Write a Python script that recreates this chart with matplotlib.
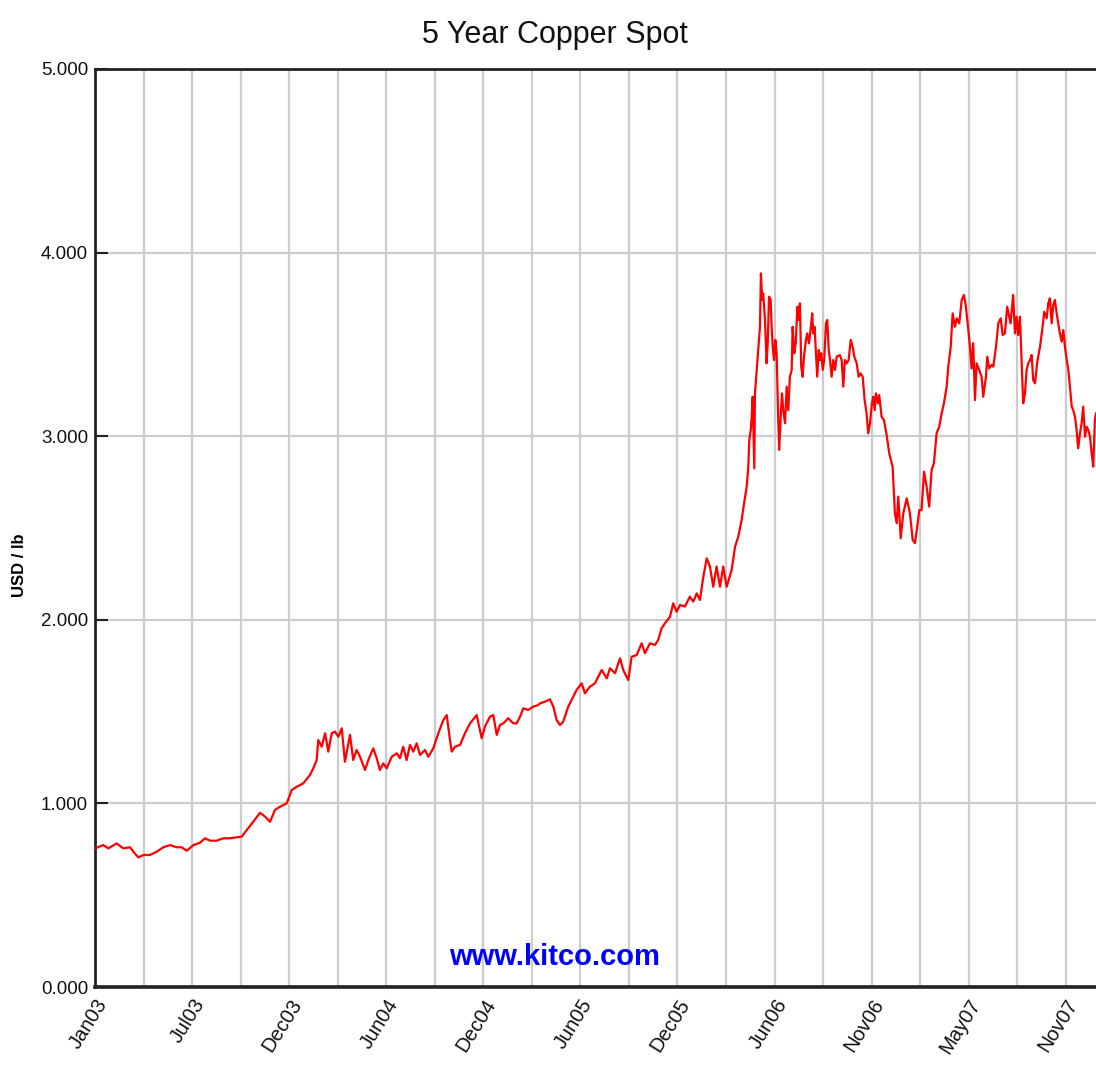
import matplotlib
matplotlib.use("Agg")
import matplotlib.pyplot as plt
from matplotlib.ticker import FixedLocator, FormatStrFormatter

# x: months since Jan 2003, y: USD / lb
months = [
    0.00, 0.51, 0.82, 1.34, 1.75, 2.16, 2.37, 2.68, 2.99, 3.40, 3.81, 4.22, 4.64, 5.05, 5.36, 5.67,
    6.08, 6.49, 6.80, 7.11, 7.52, 7.93, 8.34, 8.76, 9.07, 9.38, 9.78, 10.20, 10.51, 10.82, 11.12,
    11.43, 11.85, 12.16, 12.47, 12.87, 13.29, 13.49, 13.70,
    13.80, 14.01, 14.22, 14.42, 14.63, 14.83, 15.04, 15.25, 15.45, 15.76, 15.96, 16.17, 16.38, 16.69,
    16.89, 17.20, 17.41, 17.61, 17.82, 18.03, 18.34, 18.65, 18.85, 19.05, 19.26, 19.47, 19.67, 19.88,
    20.09, 20.40, 20.60, 20.91, 21.22, 21.53, 21.74, 21.94, 22.05, 22.25, 22.56, 22.87, 23.18, 23.59,
    23.90, 24.10, 24.41, 24.62, 24.83, 25.03, 25.24, 25.54, 25.85, 26.06, 26.27, 26.47, 26.78, 27.09,
    27.40,
    27.50, 27.81, 28.12, 28.33, 28.53, 28.74, 28.94, 29.25, 29.56, 29.77, 30.08, 30.28, 30.59, 30.90,
    31.32, 31.63, 31.83, 32.14, 32.45, 32.65, 32.96, 33.17, 33.48, 33.79, 33.99, 34.30, 34.61, 34.81,
    35.02, 35.23, 35.54, 35.74, 35.95, 36.16, 36.46, 36.77, 36.98, 37.19, 37.39, 37.60, 37.81, 38.01,
    38.21, 38.42, 38.63, 38.83, 39.04, 39.35,
    39.56, 39.76, 39.97, 40.07, 40.28, 40.38, 40.44, 40.53, 40.59, 40.65, 40.73, 40.75, 40.79, 40.90,
    41.00, 41.10, 41.16, 41.24, 41.30, 41.41, 41.51, 41.58, 41.66, 41.76, 41.82, 41.89, 41.97, 42.05,
    42.13, 42.23, 42.29, 42.38, 42.46, 42.54, 42.65, 42.75, 42.85, 42.95, 43.06, 43.12, 43.22, 43.31,
    43.41, 43.49, 43.57, 43.65, 43.74, 43.82, 43.94, 44.02, 44.13, 44.25, 44.33, 44.39, 44.48, 44.56,
    44.64, 44.73, 44.81, 44.89, 44.98, 45.07, 45.18, 45.26, 45.35, 45.43, 45.53, 45.63, 45.74, 45.84,
    46.04, 46.15, 46.25, 46.35, 46.46, 46.58, 46.71, 46.83, 46.93, 47.08, 47.20, 47.32, 47.45, 47.57,
    47.69, 47.79, 47.90, 48.02, 48.10, 48.19, 48.27, 48.39, 48.47,
    48.62, 48.76, 48.93, 49.09, 49.30, 49.44, 49.55, 49.65, 49.80, 49.96, 50.17, 50.37, 50.54, 50.68,
    50.82, 50.95, 51.09, 51.24, 51.40, 51.56, 51.71, 51.85, 52.02, 52.18, 52.33, 52.47, 52.64, 52.74,
    52.89, 53.01, 53.15, 53.26, 53.42, 53.57, 53.71, 53.83, 53.98, 54.08, 54.18, 54.28, 54.39, 54.49,
    54.65, 54.80, 54.90, 55.07, 55.15, 55.27, 55.42, 55.52, 55.69, 55.83, 55.98, 56.10, 56.24, 56.38,
    56.51, 56.59, 56.75, 56.86, 56.96, 57.06, 57.17, 57.27, 57.37, 57.48, 57.58, 57.68, 57.79, 57.89,
    57.99, 58.10, 58.24, 58.41, 58.57, 58.67, 58.82, 58.92, 59.02, 59.13, 59.23, 59.33, 59.44, 59.60,
    59.75, 59.85, 59.95, 60.06, 60.16, 60.26, 60.37, 60.46, 60.57, 60.67, 60.77, 60.88, 60.98, 61.08,
    61.19, 61.29, 61.39, 61.50, 61.60, 61.70, 61.80, 61.87,
]

price = [
    0.755, 0.773, 0.755, 0.782, 0.755, 0.761, 0.737, 0.706, 0.719, 0.719, 0.737, 0.761, 0.773, 0.761, 0.761, 0.742,
    0.773, 0.786, 0.810, 0.797, 0.797, 0.810, 0.810, 0.815, 0.819, 0.855, 0.900, 0.949, 0.928, 0.900, 0.964,
    0.982, 1.000, 1.073, 1.091, 1.109, 1.155, 1.191, 1.236,
    1.345, 1.309, 1.382, 1.282, 1.382, 1.391, 1.363, 1.409, 1.227, 1.373, 1.236, 1.291, 1.254, 1.182,
    1.236, 1.300, 1.246, 1.182, 1.218, 1.191, 1.254, 1.273, 1.246, 1.309, 1.236, 1.318, 1.282, 1.327,
    1.264, 1.291, 1.254, 1.300, 1.382, 1.454, 1.481, 1.345, 1.282, 1.309, 1.318, 1.382, 1.436, 1.481,
    1.355, 1.418, 1.472, 1.481, 1.373, 1.427, 1.436, 1.464, 1.436, 1.436, 1.472, 1.518, 1.509, 1.527,
    1.536,
    1.545, 1.554, 1.567, 1.527, 1.454, 1.427, 1.445, 1.527, 1.581, 1.618, 1.654, 1.600, 1.636, 1.654,
    1.727, 1.681, 1.736, 1.709, 1.790, 1.727, 1.672, 1.799, 1.808, 1.872, 1.818, 1.872, 1.863, 1.890,
    1.954, 1.981, 2.017, 2.090, 2.044, 2.081, 2.072, 2.126, 2.099, 2.144, 2.108, 2.235, 2.335, 2.290,
    2.180, 2.290, 2.180, 2.290, 2.180, 2.271,
    2.398, 2.453, 2.544, 2.607, 2.725, 2.834, 2.979, 3.034, 3.106, 3.215, 2.907, 2.825, 3.233, 3.361,
    3.470, 3.596, 3.887, 3.742, 3.778, 3.633, 3.397, 3.506, 3.760, 3.742, 3.596, 3.487, 3.415, 3.524,
    3.452, 3.088, 2.925, 3.106, 3.233, 3.142, 3.070, 3.270, 3.142, 3.324, 3.361, 3.596, 3.452, 3.506,
    3.705, 3.633, 3.724, 3.378, 3.324, 3.433, 3.524, 3.560, 3.506, 3.596, 3.669, 3.560, 3.596, 3.452,
    3.324, 3.470, 3.415, 3.452, 3.361, 3.415, 3.615, 3.633, 3.470, 3.415, 3.324, 3.415, 3.361, 3.433,
    3.442, 3.415, 3.270, 3.415, 3.397, 3.415, 3.524, 3.487, 3.433, 3.397, 3.324, 3.342, 3.324, 3.197,
    3.124, 3.016, 3.070, 3.179, 3.215, 3.142, 3.233, 3.179, 3.224,
    3.106, 3.088, 3.007, 2.907, 2.834, 2.580, 2.526, 2.671, 2.444, 2.580, 2.662, 2.580, 2.435, 2.417,
    2.507, 2.598, 2.598, 2.807, 2.725, 2.616, 2.816, 2.852, 3.016, 3.052, 3.124, 3.179, 3.270, 3.379,
    3.487, 3.669, 3.596, 3.642, 3.615, 3.742, 3.769, 3.705, 3.578, 3.487, 3.369, 3.506, 3.197, 3.397,
    3.361, 3.324, 3.215, 3.324, 3.433, 3.369, 3.388, 3.379, 3.487, 3.615, 3.642, 3.551, 3.560, 3.705,
    3.651, 3.615, 3.769, 3.560, 3.651, 3.551, 3.651, 3.415, 3.179, 3.233, 3.361, 3.397, 3.415, 3.442,
    3.306, 3.288, 3.406, 3.487, 3.596, 3.678, 3.642, 3.724, 3.751, 3.615, 3.715, 3.742, 3.669, 3.578,
    3.515, 3.578, 3.487, 3.415, 3.361, 3.270, 3.161, 3.142, 3.106, 3.034, 2.934, 3.016, 3.070, 3.161,
    2.997, 3.052, 3.034, 2.997, 2.907, 2.834, 3.088, 3.124,
]

tick_months = [0, 6, 12, 18, 24, 30, 36, 42, 48, 54, 60]
tick_labels = ["Jan03", "Jul03", "Dec03", "Jun04", "Dec04", "Jun05", "Dec05",
               "Jun06", "Nov06", "May07", "Nov07"]
grid_months = [0, 3, 6, 9, 12, 15, 18, 21, 24, 27, 30, 33, 36, 39, 42, 45, 48, 51, 54, 57, 60]
y_ticks = [0, 1, 2, 3, 4, 5]

plt.rcParams['font.family'] = ['Liberation Sans', 'DejaVu Sans']

fig = plt.figure(figsize=(10.96, 10.65), dpi=100)
ax = fig.add_axes([95 / 1096, 1 - 987 / 1065, 1 - 95 / 1096, (987 - 69) / 1065])

for m in grid_months:
    ax.axvline(m, color="#cccccc", lw=1.6, zorder=1)
for v in y_ticks:
    ax.axhline(v, color="#cccccc", lw=1.6, zorder=1)

ax.plot(months, price, color="#ff0000", lw=1.6, zorder=3, solid_joinstyle="round")

ax.set_xlim(0, 61.87)
ax.set_ylim(0, 5)

ax.yaxis.set_major_locator(FixedLocator(y_ticks))
ax.yaxis.set_major_formatter(FormatStrFormatter("%.3f"))
ax.tick_params(axis="y", direction="in", length=9, width=1.5, color="#222222",
               labelsize=13.5, pad=5, labelcolor="#111111")

ax.set_xticks(tick_months)
ax.set_xticklabels(tick_labels, rotation=58, ha="right", va="top",
                   rotation_mode="anchor", fontsize=14.5, color="#111111")
ax.tick_params(axis="x", length=0, pad=6)

for side in ["left", "top"]:
    ax.spines[side].set_linewidth(2.0)
    ax.spines[side].set_color("#222222")
ax.spines["bottom"].set_linewidth(2.6)
ax.spines["bottom"].set_color("#222222")
ax.spines["right"].set_visible(False)

ax.set_ylabel("USD / lb", fontsize=12, fontweight="bold")
ax.yaxis.set_label_coords(-0.068, 0.46)

fig.text(555 / 1096, 1 - 35 / 1065, "5 Year Copper Spot", ha="center", va="center",
         fontsize=22, color="#111111")
fig.text(555 / 1096, 1 - 957 / 1065, "www.kitco.com", ha="center", va="center",
         fontsize=21, fontweight="bold", color="#0000ff", zorder=4)

fig.savefig("out.png", dpi=100)
